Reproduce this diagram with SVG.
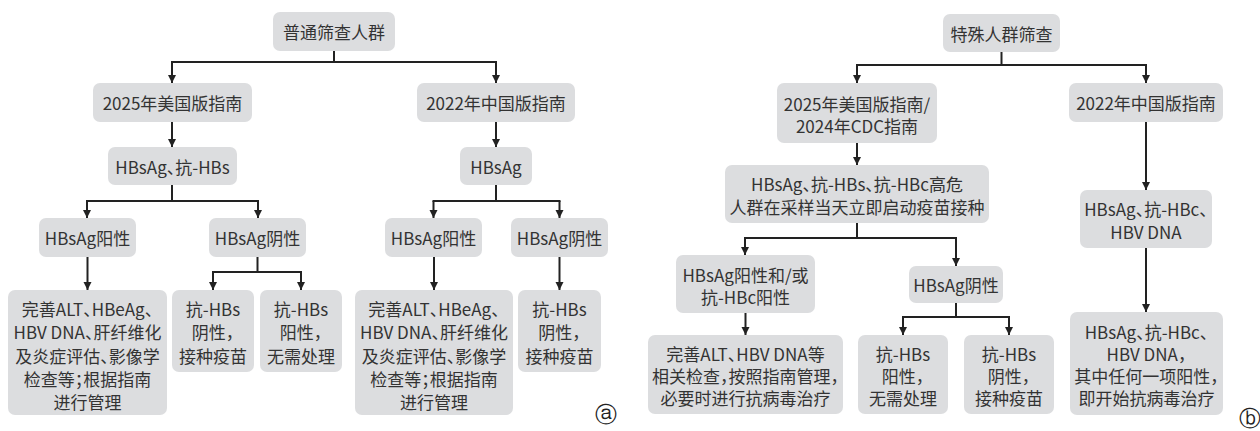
<svg xmlns="http://www.w3.org/2000/svg" width="1260" height="431" viewBox="0 0 1260 431">
<defs>
<marker id="ah" markerUnits="userSpaceOnUse" markerWidth="9" markerHeight="9" refX="8" refY="4.5" orient="auto">
<path d="M0,0.5 L8,4.5 L0,8.5 z" fill="#222"/>
</marker>
<style>
.b{fill:#dcdddf}
.t{font-family:"Noto Sans CJK SC","Noto Sans",sans-serif;font-size:17px;fill:#333;text-anchor:middle;dominant-baseline:central;font-feature-settings:"halt"}
.c path{fill:none;stroke:#222;stroke-width:2}
.c path.a{marker-end:url(#ah)}
.lab{font-family:"DejaVu Sans",sans-serif;font-size:22px;fill:#222;text-anchor:middle;dominant-baseline:central}
</style>
</defs>
<rect width="1260" height="431" fill="#fff"/>

<!-- Panel a nodes -->
<g id="a_root"><rect class="b" x="273" y="12" width="122" height="39" rx="7"/><text class="t" x="334" y="31.5">普通筛查人群</text></g>
<g id="a_us"><rect class="b" x="93" y="83" width="159" height="39" rx="7"/><text class="t" x="172.5" y="102.5">2025年美国版指南</text></g>
<g id="a_cn"><rect class="b" x="417" y="83" width="158" height="39" rx="7"/><text class="t" x="496" y="102.5">2022年中国版指南</text></g>
<g id="a_us_test"><rect class="b" x="108" y="147" width="129" height="38" rx="7"/><text class="t" x="172.5" y="166">HBsAg、抗-HBs</text></g>
<g id="a_cn_test"><rect class="b" x="460" y="147" width="72" height="38" rx="7"/><text class="t" x="496" y="166">HBsAg</text></g>
<g id="a_us_pos"><rect class="b" x="39" y="218" width="97" height="39" rx="7"/><text class="t" x="87.5" y="237.5">HBsAg阳性</text></g>
<g id="a_us_neg"><rect class="b" x="209" y="218" width="97" height="39" rx="7"/><text class="t" x="257.5" y="237.5">HBsAg阴性</text></g>
<g id="a_cn_pos"><rect class="b" x="385" y="218" width="97" height="39" rx="7"/><text class="t" x="433.5" y="237.5">HBsAg阳性</text></g>
<g id="a_cn_neg"><rect class="b" x="511" y="218" width="97" height="39" rx="7"/><text class="t" x="559.5" y="237.5">HBsAg阴性</text></g>
<g id="a_us_pos_act"><rect class="b" x="8" y="290" width="159" height="125" rx="7"/>
<text class="t"><tspan x="87.5" y="308">完善ALT、HBeAg、</tspan><tspan x="87.5" y="331">HBV DNA、肝纤维化</tspan><tspan x="87.5" y="355">及炎症评估、影像学</tspan><tspan x="87.5" y="378">检查等；根据指南</tspan><tspan x="87.5" y="401">进行管理</tspan></text></g>
<g id="a_us_neg1"><rect class="b" x="172" y="290" width="82" height="82" rx="7"/>
<text class="t"><tspan x="213" y="308">抗-HBs</tspan><tspan x="213" y="331">阴性，</tspan><tspan x="213" y="355">接种疫苗</tspan></text></g>
<g id="a_us_neg2"><rect class="b" x="260" y="290" width="82" height="82" rx="7"/>
<text class="t"><tspan x="301" y="308">抗-HBs</tspan><tspan x="301" y="331">阳性，</tspan><tspan x="301" y="355">无需处理</tspan></text></g>
<g id="a_cn_pos_act"><rect class="b" x="355" y="290" width="158" height="125" rx="7"/>
<text class="t"><tspan x="434" y="308">完善ALT、HBeAg、</tspan><tspan x="434" y="331">HBV DNA、肝纤维化</tspan><tspan x="434" y="355">及炎症评估、影像学</tspan><tspan x="434" y="378">检查等；根据指南</tspan><tspan x="434" y="401">进行管理</tspan></text></g>
<g id="a_cn_neg1"><rect class="b" x="518" y="290" width="83" height="82" rx="7"/>
<text class="t"><tspan x="559.5" y="308">抗-HBs</tspan><tspan x="559.5" y="331">阴性，</tspan><tspan x="559.5" y="355">接种疫苗</tspan></text></g>
<text class="lab" x="606" y="414">ⓐ</text>

<!-- Panel b nodes -->
<g id="b_root"><rect class="b" x="943" y="14" width="117" height="38" rx="7"/><text class="t" x="1001.5" y="33">特殊人群筛查</text></g>
<g id="b_us"><rect class="b" x="777" y="83" width="160" height="60" rx="7"/>
<text class="t"><tspan x="857" y="103">2025年美国版指南/</tspan><tspan x="857" y="125">2024年CDC指南</tspan></text></g>
<g id="b_cn"><rect class="b" x="1069" y="83" width="154" height="39" rx="7"/><text class="t" x="1146" y="102.5">2022年中国版指南</text></g>
<g id="b_us_test"><rect class="b" x="725" y="165" width="264" height="58" rx="7"/>
<text class="t"><tspan x="857" y="183">HBsAg、抗-HBs、抗-HBc高危</tspan><tspan x="857" y="206">人群在采样当天立即启动疫苗接种</tspan></text></g>
<g id="b_cn_test"><rect class="b" x="1080" y="190" width="132" height="58" rx="7"/>
<text class="t"><tspan x="1146" y="208">HBsAg、抗-HBc、</tspan><tspan x="1146" y="231">HBV DNA</tspan></text></g>
<g id="b_cn_act"><rect class="b" x="1070" y="312" width="153" height="103" rx="7"/>
<text class="t"><tspan x="1146.5" y="331">HBsAg、抗-HBc、</tspan><tspan x="1146.5" y="353">HBV DNA，</tspan><tspan x="1146.5" y="375">其中任何一项阳性，</tspan><tspan x="1146.5" y="397">即开始抗病毒治疗</tspan></text></g>
<g id="b_us_pos"><rect class="b" x="676" y="255" width="139" height="58" rx="7"/>
<text class="t"><tspan x="745.5" y="274">HBsAg阳性和/或</tspan><tspan x="745.5" y="296">抗-HBc阳性</tspan></text></g>
<g id="b_us_neg"><rect class="b" x="909" y="266" width="94" height="37" rx="7"/><text class="t" x="956" y="284.5">HBsAg阴性</text></g>
<g id="b_us_pos_act"><rect class="b" x="648" y="335" width="195" height="79" rx="7"/>
<text class="t"><tspan x="745.5" y="353">完善ALT、HBV DNA等</tspan><tspan x="745.5" y="375">相关检查，按照指南管理，</tspan><tspan x="745.5" y="397">必要时进行抗病毒治疗</tspan></text></g>
<g id="b_us_neg1"><rect class="b" x="858" y="335" width="90" height="79" rx="7"/>
<text class="t"><tspan x="903" y="353">抗-HBs</tspan><tspan x="903" y="375">阳性，</tspan><tspan x="903" y="397">无需处理</tspan></text></g>
<g id="b_us_neg2"><rect class="b" x="964" y="335" width="90" height="79" rx="7"/>
<text class="t"><tspan x="1009" y="353">抗-HBs</tspan><tspan x="1009" y="375">阴性，</tspan><tspan x="1009" y="397">接种疫苗</tspan></text></g>
<text class="lab" x="1250" y="418">ⓑ</text>

<!-- Connectors -->
<g id="connectors" class="c">
<path d="M334,51 V62"/><path d="M171,62 H497"/>
<path class="a" d="M172,62 V83"/><path class="a" d="M496,62 V83"/>
<path class="a" d="M172,122 V147"/><path class="a" d="M496,122 V147"/>
<path d="M172,185 V201"/><path d="M86,201 H259"/>
<path class="a" d="M87,201 V218"/><path class="a" d="M258,201 V218"/>
<path d="M496,185 V201"/><path d="M432.5,201 H560.5"/>
<path class="a" d="M433.5,201 V218"/><path class="a" d="M559.5,201 V218"/>
<path class="a" d="M87.5,257 V290"/>
<path d="M257.5,257 V272"/><path d="M212,272 H302"/>
<path class="a" d="M213,272 V290"/><path class="a" d="M301,272 V290"/>
<path class="a" d="M434,257 V290"/><path class="a" d="M559.5,257 V290"/>

<path d="M1001.5,52 V65"/><path d="M856,65 H1147"/>
<path class="a" d="M857,65 V83"/><path class="a" d="M1146,65 V83"/>
<path class="a" d="M857,143 V165"/>
<path class="a" d="M1146,122 V190"/>
<path class="a" d="M1146,248 V312"/>
<path d="M857,223 V238"/><path d="M744,238 H957"/>
<path class="a" d="M745,238 V255"/><path class="a" d="M956,238 V266"/>
<path class="a" d="M745.5,313 V335"/>
<path d="M956,303 V317"/><path d="M902,317 H1010"/>
<path class="a" d="M903,317 V335"/><path class="a" d="M1009,317 V335"/>
</g>
</svg>
